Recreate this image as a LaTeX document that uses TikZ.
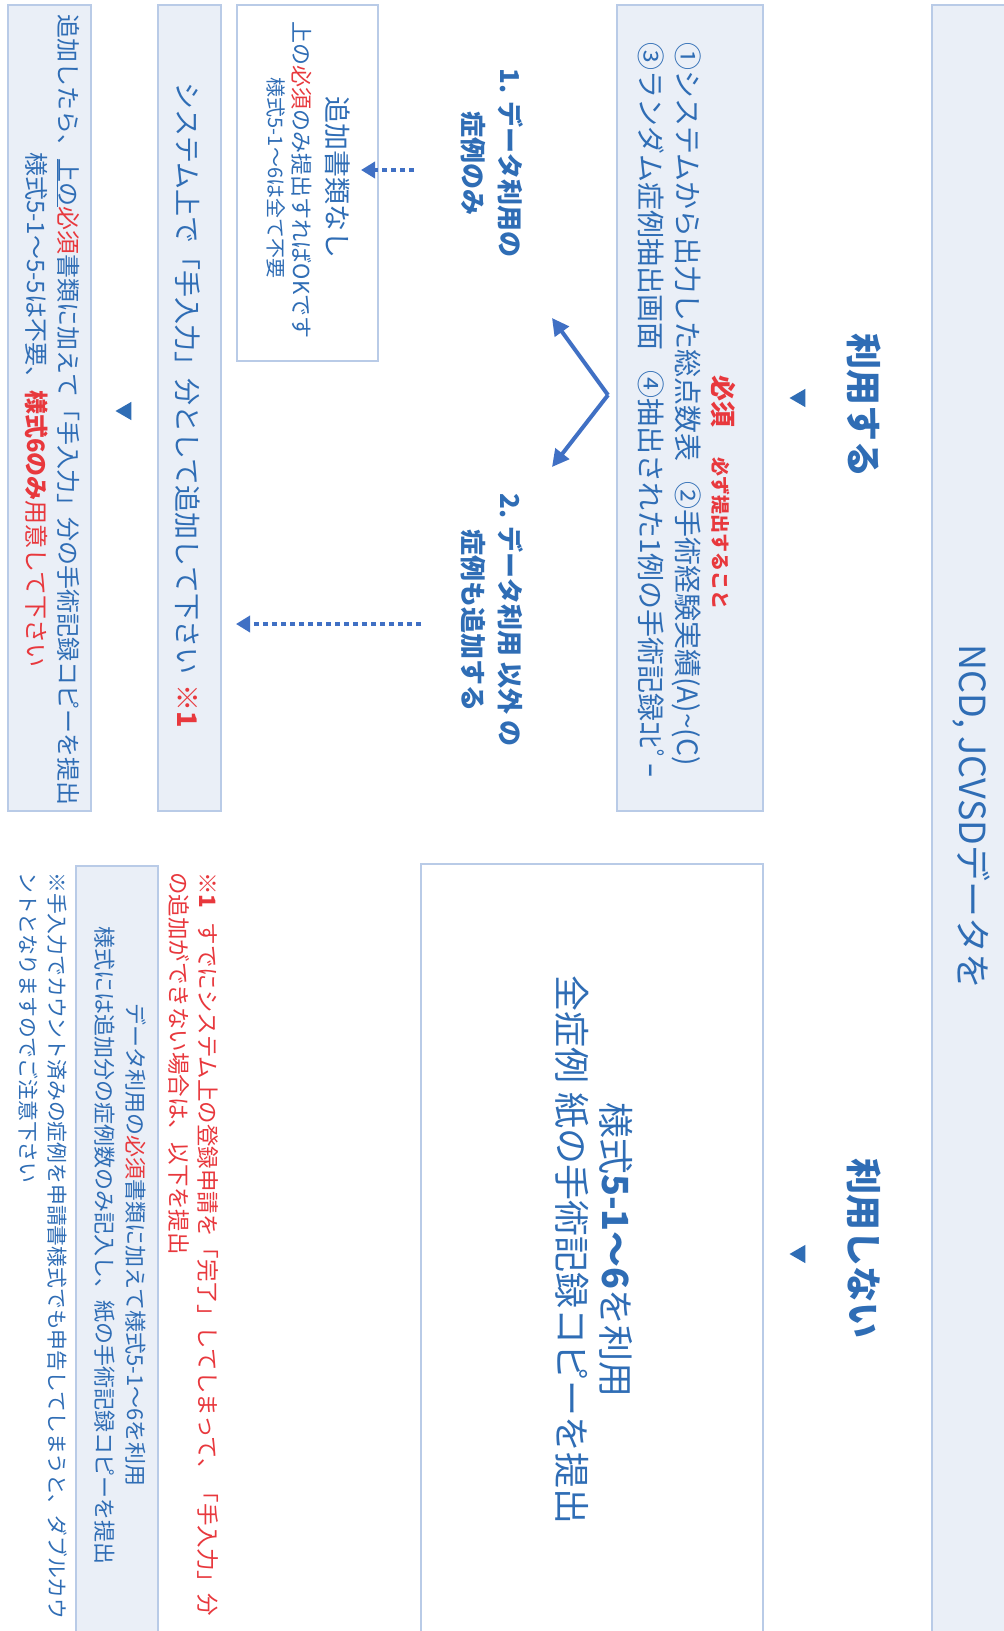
\documentclass[tikz,border=0pt]{standalone}
\usepackage{fontspec}
\setmainfont{Noto Sans CJK JP}
\usepackage{xcolor}
\usetikzlibrary{arrows.meta,shapes.geometric,calc,positioning}
\definecolor{ncdblue}{HTML}{2F6DB5}
\definecolor{panelfill}{HTML}{EAEFF7}
\definecolor{panelline}{HTML}{B9CBE7}
\definecolor{ncdred}{HTML}{E8383D}
\definecolor{arrblue}{HTML}{4070C4}
\newcommand{\fsz}[2]{\fontsize{#1pt}{#2pt}\selectfont}
\tikzstyle{panel} = [draw=panelline, line width=2pt, fill=panelfill, inner sep=0pt]
\tikzstyle{blank} = [draw=panelline, line width=2pt, fill=white, inner sep=0pt]
\tikzstyle{txt} = [text=ncdblue, inner sep=0pt]
\tikzstyle{pointer} = [regular polygon, regular polygon sides=3, shape border rotate=180, fill=ncdblue, minimum size=21pt, inner sep=0pt]
\tikzstyle{arrow} = [arrblue, line width=4pt, -{Triangle[length=17pt,width=17pt]}]
\tikzstyle{dotarrow} = [arrblue, line width=4pt, dash pattern=on 5pt off 4pt, -{Triangle[length=14pt,width=16pt]}]

\begin{document}
\begin{tikzpicture}[x=1pt,y=-1pt]
\begin{scope}[xshift=1004pt,rotate=-90,transform shape]
\useasboundingbox (0,0) rectangle (1631,1004);
\clip (0,0) rectangle (1631,1004);
\fill[white] (0,0) rectangle (1631,1004);

% header
\node[panel, minimum width=1645pt, minimum height=92pt] (head) at (827,26) {};
\node[txt, font=\fsz{36}{44}] (title) at (817,33) {NCD, JCVSDデータを};

% two branches
\node[txt, font=\fsz{36}{44}\bfseries] (use) at (405,140) {利用する};
\node[pointer] (p1) at (398,204) {};
\node[txt, font=\fsz{36}{44}\bfseries] (nouse) at (1248,140) {利用しない};
\node[pointer] (p2) at (1254,204) {};

% left: required documents
\node[panel, minimum width=806pt, minimum height=146pt] (must) at (408,314) {};
\node[txt, anchor=base west, text=ncdred, font=\fsz{26}{37}\bfseries] (mustlbl) at (375,291)
  {必須\hspace{30pt}{\fsz{19}{24}必ず提出すること}};
\node[txt, anchor=west, align=left, font=\fsz{28}{37}] (mustlist) at (42,334)
  {①システムから出力した総点数表\hspace{20pt}②手術経験実績(A)\textasciitilde(C)\\
   ③ランダム症例抽出画面\hspace{20pt}④抽出された1例の手術記録ｺﾋﾟｰ};

\node[txt, align=center, font=\fsz{26}{37}\bfseries] (opt1) at (163,512) {1. データ利用の\\症例のみ};
\node[txt, align=center, font=\fsz{26}{37}\bfseries] (opt2) at (620,512) {2. データ利用 以外 の\\症例も追加する};

% option 1
\node[blank, minimum width=356pt, minimum height=141pt] (none) at (183,697) {};
\node[txt, font=\fsz{27}{34}] (none1) at (177,666) {追加書類なし};
\node[txt, font=\fsz{22}{28}] (none2) at (180,702) {上の{\color{ncdred}必須}のみ提出すればOKです};
\node[txt, font=\fsz{20}{26}] (none3) at (178,728) {様式5-1～6は全て不要};

% option 2
\node[panel, minimum width=806pt, minimum height=63pt] (sys) at (408,815) {};
\node[txt, font=\fsz{27}{34}] (systxt) at (405,816)
  {システム上で「手入力」分として追加して下さい\hspace{10pt}{\color{ncdred}\bfseries ※1}};
\node[pointer] (p3) at (411,878) {};
\node[panel, minimum width=806pt, minimum height=83pt] (add) at (408,955) {};
\node[txt, align=center, font=\fsz{24}{32}] (addtxt) at (410,952)
  {追加したら、\underline{上の}{\color{ncdred}必須}書類に加えて「手入力」分の手術記録コピーを提出\\
   様式5-1～5-5は不要、{\color{ncdred}\bfseries 様式6のみ}{\color{ncdred}用意して下さい}};

% right: paper forms
\node[blank, minimum width=786pt, minimum height=342pt] (paper) at (1257,412) {};
\node[txt, align=center, font=\fsz{36}{44}] (papertxt) at (1250,410)
  {様式{\bfseries 5-1～6}を利用\\全症例 紙の手術記録コピーを提出};

% notes
\node[txt, anchor=west, align=left, text=ncdred, font=\fsz{22.5}{29}] (note1) at (872,810)
  {{\bfseries ※1}\hspace{14pt}すでにシステム上の登録申請を「完了」してしまって、「手入力」分\\
   の追加ができない場合は、以下を提出};
\node[panel, minimum width=784pt, minimum height=82pt] (extra) at (1258,887) {};
\node[txt, align=center, font=\fsz{22}{31}] (extratxt) at (1245,884)
  {データ利用の{\color{ncdred}必須}書類に加えて様式5-1～6を利用\\
   様式には追加分の症例数のみ記入し、紙の手術記録コピーを提出};
\node[txt, anchor=west, align=left, font=\fsz{20.8}{29}] (note2) at (872,961)
  {※手入力でカウント済みの症例を申請書様式でも申告してしまうと、ダブルカウ\\
   ントとなりますのでご注意下さい};

% connectors
\coordinate (fork) at (395,396);
\coordinate (tip1) at (318,452);
\coordinate (tip2) at (467,452);
\draw[arrow] (fork) -- (tip1);
\draw[arrow] (fork) -- (tip2);

\coordinate (g1) at (170,590);
\coordinate (h1) at (170,643);
\coordinate (g2) at (624,583);
\coordinate (h2) at (624,768);
\draw[dotarrow] (g1) -- (h1);
\draw[dotarrow] (g2) -- (h2);
\end{scope}
\end{tikzpicture}
\end{document}
